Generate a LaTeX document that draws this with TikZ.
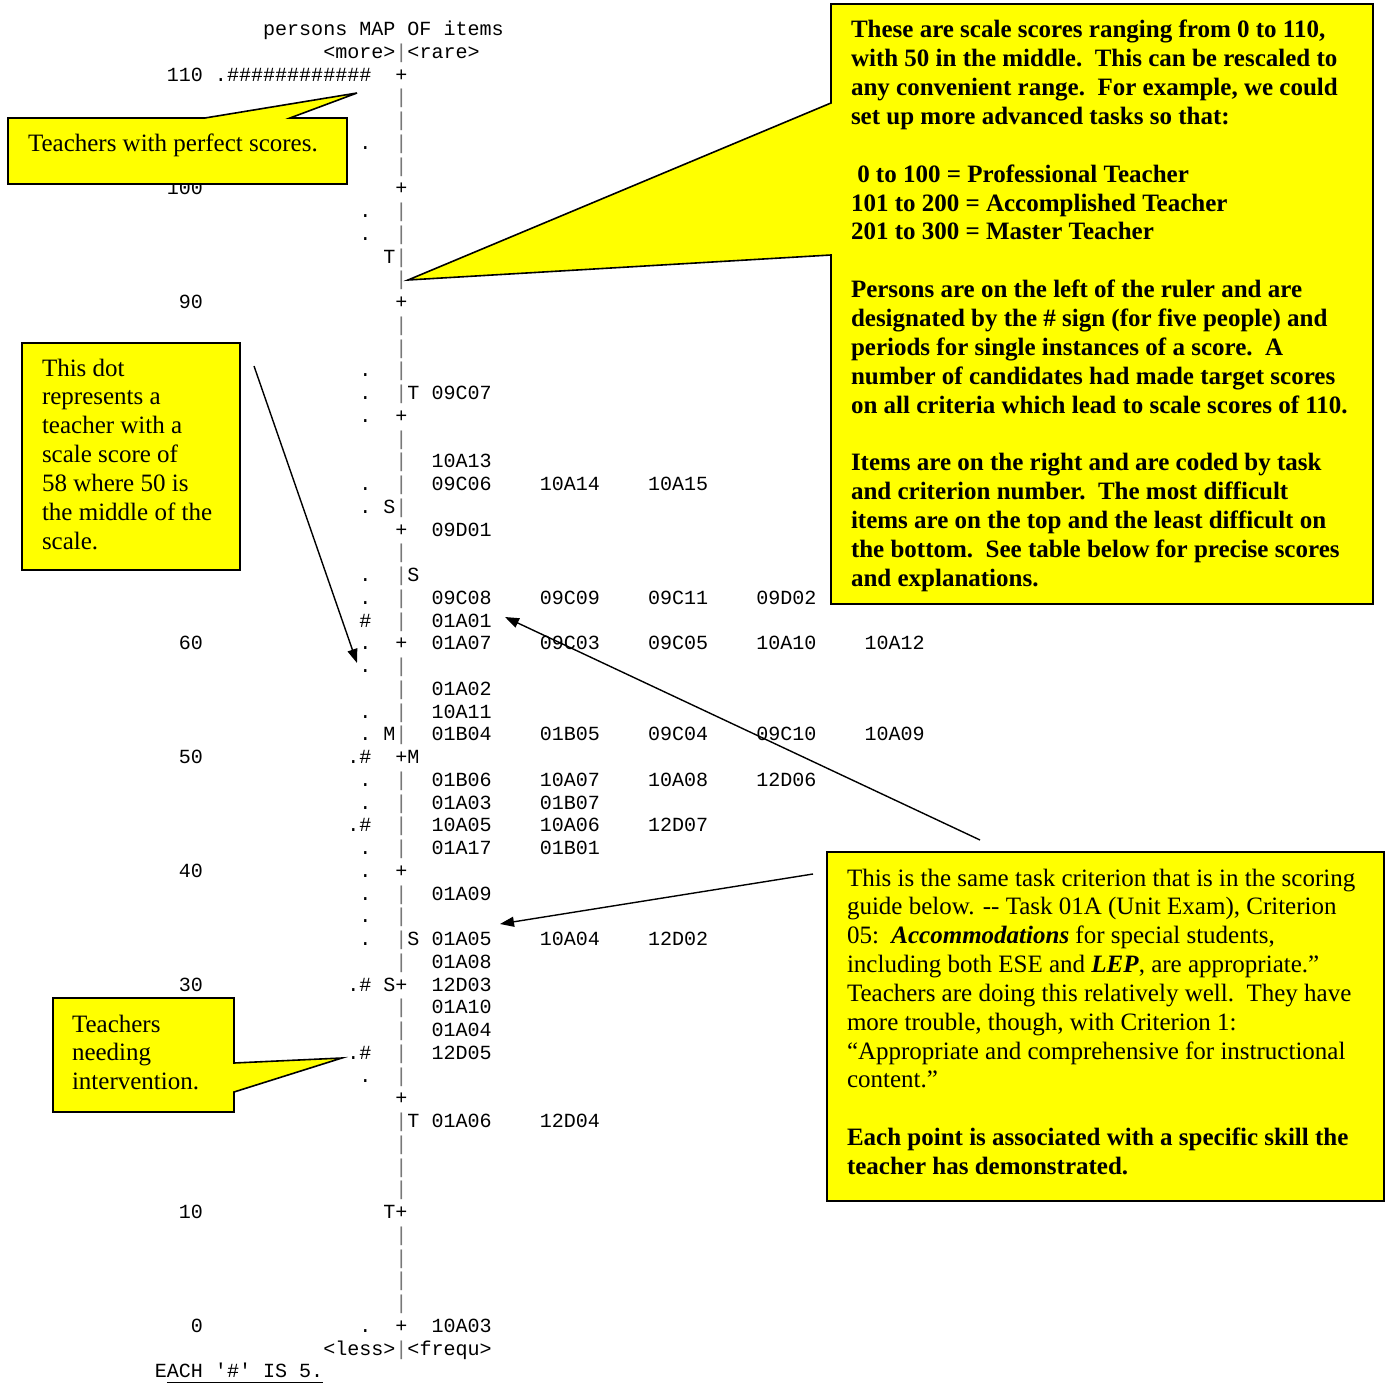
\documentclass[tikz,border=0pt]{standalone}
\usepackage{fontspec}
\setmainfont{Liberation Serif}
\newfontfamily\mapfont{Liberation Mono}
\usetikzlibrary{arrows.meta,calc}
\definecolor{callyellow}{RGB}{255,255,0}
\definecolor{rulegray}{RGB}{120,120,120}
\newcommand\cw{12.03}
\newcommand\xo{142.8}
\newcommand\lp{22.75}
\newcommand\yo{35.7}
\tikzset{
  maptext/.style={font=\mapfont\fontsize{20.05}{22.75}\selectfont, inner sep=0pt, outer sep=0pt, anchor=base west},
  callout/.style={draw=black, line width=1.6pt, fill=callyellow, line join=miter},
  note/.style={inner sep=0pt, outer sep=0pt, anchor=base west},
  pointer/.style={line width=1.4pt, -{Triangle[length=14pt,width=10pt]}},
}
\newcommand\mt[4]{\node[maptext] (#1) at ({\xo+#2*\cw},{\yo+#3*\lp}) {#4};}
\newcommand\notefont{\fontsize{25}{28.85}\selectfont}
\begin{document}
\begin{tikzpicture}[x=1pt,y=-1pt]
\useasboundingbox (0,0) rectangle (1385,1383);
\fill[white] (0,0) rectangle (1385,1383);

% ---- headers
\mt{head}{10}{0}{persons MAP OF items}
\mt{more}{15}{1}{<more>\textcolor{rulegray}{|}<rare>}
\mt{less}{15}{58}{<less>\textcolor{rulegray}{|}<frequ>}
\mt{each}{1}{59}{EACH \textquotesingle\#\textquotesingle\ IS 5.}
\draw[line width=1pt] ($(each.base west)+(12,5)$) -- ($(each.base east)+(0,5)$);

% ---- scale labels
\mt{s110}{2}{2}{110}
\mt{s100}{2}{7}{100}
\mt{s90}{3}{12}{90}
\mt{s60}{3}{27}{60}
\mt{s50}{3}{32}{50}
\mt{s40}{3}{37}{40}
\mt{s30}{3}{42}{30}
\mt{s10}{3}{52}{10}
\mt{s0}{4}{57}{0}

% ---- ruler
\foreach \l in {2,...,57}{%
  \pgfmathtruncatemacro\rr{mod(\l-2,5)}%
  \ifnum\rr=0
    \node[maptext] (r-\l) at ({\xo+21*\cw},{\yo+\l*\lp}) {+};
  \else
    \node[maptext,text=rulegray] (r-\l) at ({\xo+21*\cw},{\yo+\l*\lp}) {|};
  \fi}

% ---- persons
\mt{top}{6}{2}{.\#\#\#\#\#\#\#\#\#\#\#\#}
\foreach \l in {5,8,9,15,16,17,20,21,24,25,27,28,30,31,33,34,36,37,38,39,40,46,57}{%
  \node[maptext] (p-\l) at ({\xo+18*\cw},{\yo+\l*\lp}) {.};}
\mt{p-26}{18}{26}{\#}
\foreach \l in {32,35,42,45}{%
  \node[maptext] (p-\l) at ({\xo+17*\cw},{\yo+\l*\lp}) {.\#};}

% ---- tags
\mt{tl-10}{20}{10}{T}
\mt{tl-21}{20}{21}{S}
\mt{tl-31}{20}{31}{M}
\mt{tl-42}{20}{42}{S}
\mt{tl-52}{20}{52}{T}
\mt{tr-16}{22}{16}{T}
\mt{tr-24}{22}{24}{S}
\mt{tr-32}{22}{32}{M}
\mt{tr-40}{22}{40}{S}
\mt{tr-48}{22}{48}{T}

% ---- items
\newcommand\items[2]{\foreach \itm [count=\k from 0] in {#2}{%
  \node[maptext] (i-#1-\k) at ({\xo+(24+9*\k)*\cw},{\yo+#1*\lp}) {\itm};}}
\items{16}{09C07}
\items{19}{10A13}
\items{20}{09C06,10A14,10A15}
\items{22}{09D01}
\items{25}{09C08,09C09,09C11,09D02}
\items{26}{01A01}
\items{27}{01A07,09C03,09C05,10A10,10A12}
\items{29}{01A02}
\items{30}{10A11}
\items{31}{01B04,01B05,09C04,09C10,10A09}
\items{33}{01B06,10A07,10A08,12D06}
\items{34}{01A03,01B07}
\items{35}{10A05,10A06,12D07}
\items{36}{01A17,01B01}
\items{38}{01A09}
\items{40}{01A05,10A04,12D02}
\items{41}{01A08}
\items{42}{12D03}
\items{43}{01A10}
\items{44}{01A04}
\items{45}{12D05}
\items{48}{01A06,12D04}
\items{57}{10A03}

% ---- callout: perfect scores
\coordinate (perfTip) at (357,93);
\draw[callout] (8,118) -- (205,118) -- (perfTip) -- (290,118) -- (347,118) -- (347,184) -- (8,184) -- cycle;
\node[note] (perfText) at (28,152) {\notefont Teachers with perfect scores.};

% ---- callout: this dot
\draw[callout] (22,343) rectangle (240,570);
\node[note] (dotText) at (42,376) {\parbox[t]{300pt}{\raggedright\notefont
This dot\\represents a\\teacher with a\\scale score of\\58 where 50 is\\the middle of the\\scale.}};
\coordinate (dotFrom) at (254,366);
\coordinate (dotTo) at (357,663);
\draw[pointer] (dotFrom) -- (dotTo);

% ---- callout: intervention
\coordinate (intTip) at (342,1058);
\draw[callout] (53,998) -- (234,998) -- (234,1063) -- (intTip) -- (234,1092) -- (234,1112) -- (53,1112) -- cycle;
\node[note] (intText) at (72,1032) {\parbox[t]{300pt}{\raggedright\notefont
Teachers\\needing\\intervention.}};

% ---- callout: big right
\coordinate (bigTip) at (408,280);
\draw[callout] (831,4) -- (1373,4) -- (1373,604) -- (831,604) -- (831,255) -- (bigTip) -- (831,103) -- cycle;
\node[note] (bigText) at (851,38) {\parbox[t]{600pt}{\raggedright\notefont\bfseries
These are scale scores ranging from 0 to 110,\\
with 50 in the middle.\ \ This can be rescaled to\\
any convenient range.\ \ For example, we could\\
set up more advanced tasks so that:\\
~\\
\hspace*{0.25em}0 to 100 = Professional Teacher\\
101 to 200 = Accomplished Teacher\\
201 to 300 = Master Teacher\\
~\\
Persons are on the left of the ruler and are\\
designated by the \# sign (for five people) and\\
periods for single instances of a score.\ \ A\\
number of candidates had made target scores\\
on all criteria which lead to scale scores of 110.\\
~\\
Items are on the right and are coded by task\\
and criterion number.\ \ The most difficult\\
items are on the top and the least difficult on\\
the bottom.\ \ See table below for precise scores\\
and explanations.}};

% ---- callout: lower right
\draw[callout] (827,852) rectangle (1384,1201);
\node[note] (lowText) at (847,886) {\parbox[t]{600pt}{\raggedright\notefont
This is the same task criterion that is in the scoring\\
guide below. -{}- Task 01A (Unit Exam), Criterion\\
05:\ \ \textbf{\textit{Accommodations}} for special students,\\
including both ESE and \textbf{\textit{LEP}}, are appropriate.”\\
Teachers are doing this relatively well.\ \ They have\\
more trouble, though, with Criterion 1:\\
“Appropriate and comprehensive for instructional\\
content.”\\
~\\
\textbf{Each point is associated with a specific skill the}\\
\textbf{teacher has demonstrated.}}};

\coordinate (critFrom) at (980,840);
\coordinate (critTo) at (505,617);
\draw[pointer] (critFrom) -- (critTo);
\coordinate (accFrom) at (813,874);
\coordinate (accTo) at (500,924);
\draw[pointer] (accFrom) -- (accTo);

\end{tikzpicture}
\end{document}
